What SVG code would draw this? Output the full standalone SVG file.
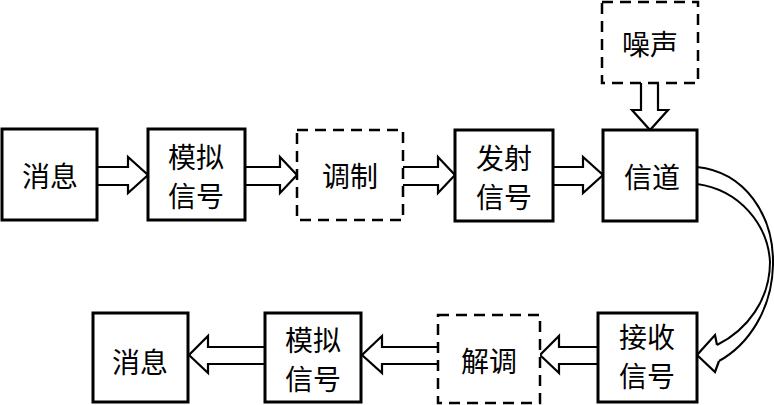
<svg xmlns="http://www.w3.org/2000/svg" width="774" height="405" viewBox="0 0 774 405">
<style>
.box{fill:#fff;stroke:#000;stroke-width:3}
.dash{fill:#fff;stroke:#000;stroke-width:2.5;stroke-dasharray:11 7}
.arr{fill:#fff;stroke:#000;stroke-width:2.2;stroke-linejoin:miter}
.crv{fill:none;stroke:#000;stroke-width:2}
text{font-family:"Noto Sans CJK SC","Noto Sans CJK JP",sans-serif;font-size:28px;fill:#000;text-anchor:middle;dominant-baseline:central}
</style>
<rect width="774" height="405" fill="#fff"/>
<g id="connectors">
<polyline class="arr" points="97,167 128,167 128,157 148,175 128,193 128,185 97,185"/>
<polyline class="arr" points="245,167 280,167 280,157 297,175 280,193 280,185 245,185"/>
<polyline class="arr" points="403,167 438,167 438,157 455,175 438,193 438,185 403,185"/>
<polyline class="arr" points="553,167 583,167 583,157 603,175 583,193 583,185 553,185"/>
<polyline class="arr" points="641,83 641,110 632,110 650,130 668,110 658,110 658,83"/>
<polyline class="arr" points="265,347 208,347 208,336 189,355 208,373 208,364 265,364"/>
<polyline class="arr" points="438,347 382,347 382,336 362,355 382,373 382,364 438,364"/>
<polyline class="arr" points="598,347 559,347 559,336 540,355 559,373 559,364 598,364"/>
<path class="crv" d="M697,167 C745,172 774,215 773,265 C772,310 748,345 719,361"/>
<path class="crv" d="M697,184 C740,190 768,225 770,262 C770,300 747,330 717,345"/>
<path class="arr" d="M717,345 L715,335 L697,355 L715,372 L719,361"/>
</g>
<g id="n1"><rect class="box" x="2" y="129" width="95" height="91"/><text x="50" y="175">消息</text></g>
<g id="n2"><rect class="box" x="148" y="129" width="97" height="91"/><text x="196" y="156">模拟</text><text x="196" y="195">信号</text></g>
<g id="n3"><rect class="dash" x="297" y="130" width="106" height="90"/><text x="350" y="175">调制</text></g>
<g id="n4"><rect class="box" x="455" y="130" width="98" height="91"/><text x="504" y="157">发射</text><text x="504" y="196">信号</text></g>
<g id="n5"><rect class="box" x="603" y="130" width="94" height="91"/><text x="652" y="176">信道</text></g>
<g id="n6"><rect class="dash" x="602" y="2" width="96" height="81"/><text x="650" y="43">噪声</text></g>
<g id="n7"><rect class="box" x="598" y="313" width="99" height="89"/><text x="647" y="336">接收</text><text x="647" y="375">信号</text></g>
<g id="n8"><rect class="dash" x="438" y="315" width="102" height="88"/><text x="489" y="360">解调</text></g>
<g id="n9"><rect class="box" x="265" y="313" width="96" height="89"/><text x="313" y="339">模拟</text><text x="313" y="378">信号</text></g>
<g id="n10"><rect class="box" x="93" y="313" width="95" height="89"/><text x="140" y="361">消息</text></g>
</svg>
